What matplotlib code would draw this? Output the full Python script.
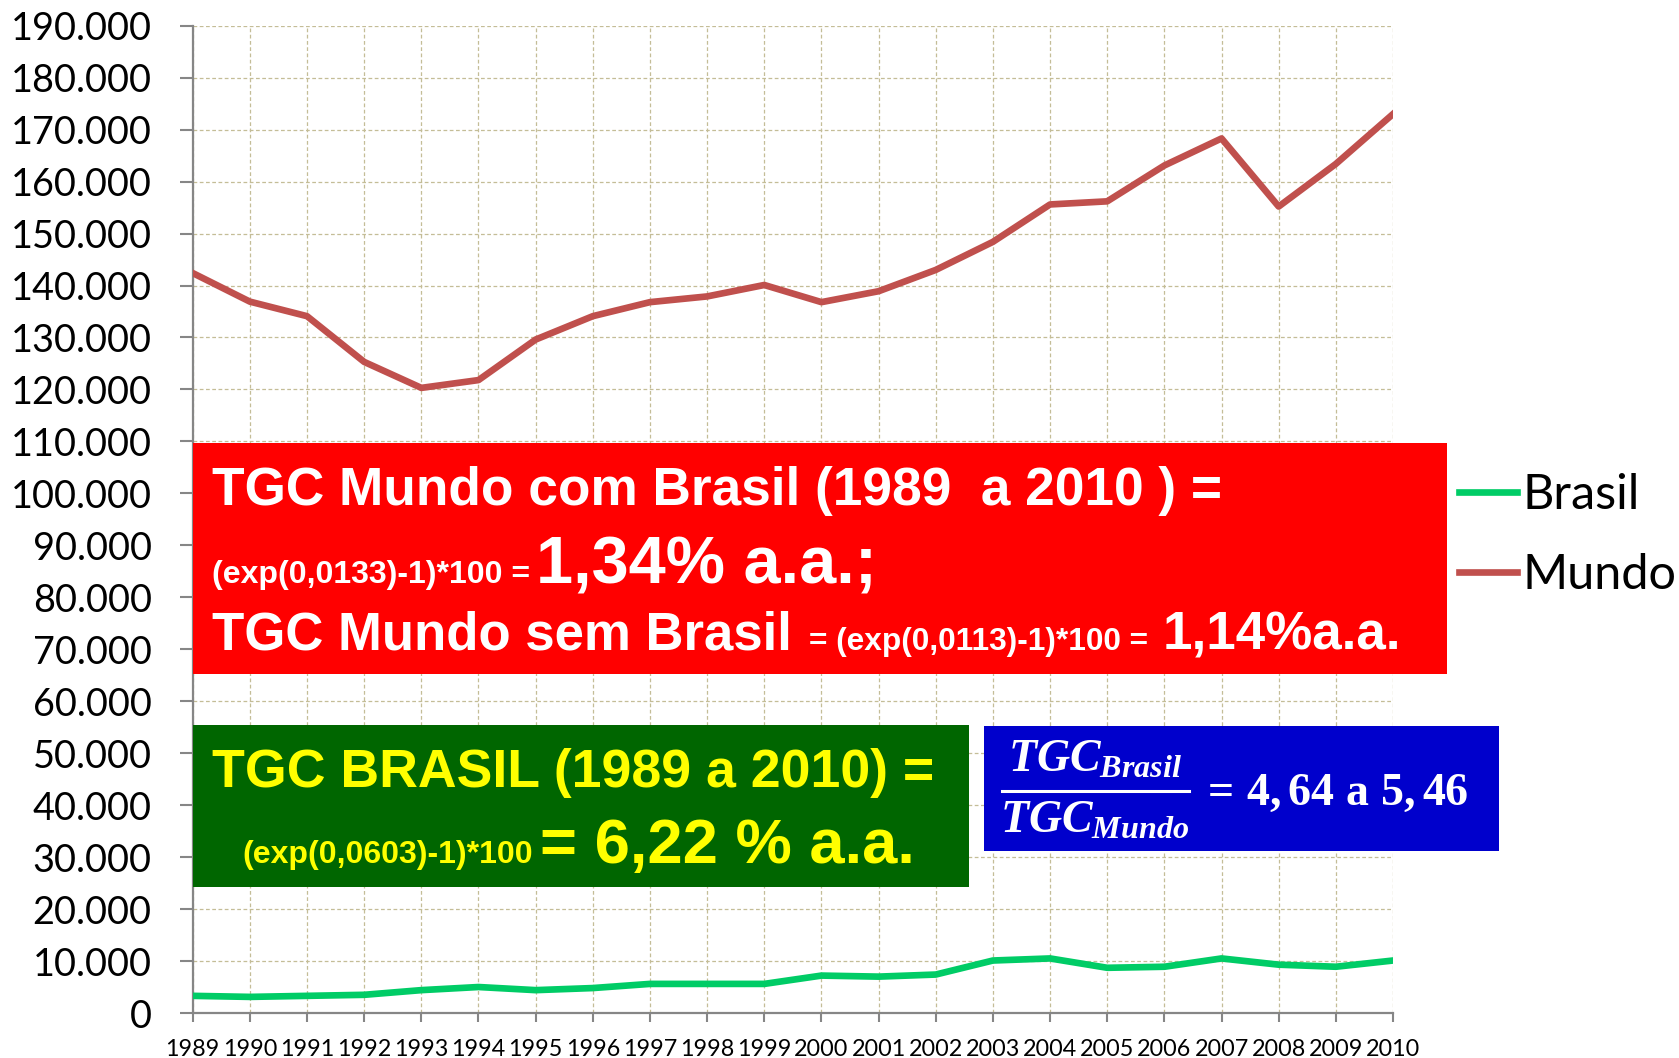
import matplotlib
matplotlib.use('Agg')
import matplotlib.pyplot as plt
from matplotlib.patches import Rectangle
from matplotlib.lines import Line2D

# ---------------- data ----------------
years = list(range(1989, 2011))
mundo = [142400, 136900, 134100, 125300, 120300, 121800, 129600, 134100, 136800, 137900,
         140100, 136800, 138900, 143000, 148400, 155600, 156200, 163100, 168300, 155200,
         163400, 173000]
brasil = [3300, 3100, 3300, 3500, 4400, 5000, 4400, 4800, 5600, 5600,
          5600, 7200, 7000, 7400, 10100, 10500, 8700, 8900, 10500, 9300,
          8900, 10100]
series_names = ['Brasil', 'Mundo']
yticks = list(range(0, 190001, 10000))
ytick_labels = ['0'] + ['{:,}'.format(v).replace(',', '.') for v in yticks[1:]]
xtick_labels = [str(y) for y in years]

red_lines = ['TGC Mundo com Brasil (1989  a 2010 ) =',
             '(exp(0,0133)-1)*100 =', '1,34% a.a.;',
             'TGC Mundo sem Brasil', '= (exp(0,0113)-1)*100 =', '1,14%a.a.']
green_lines = ['TGC BRASIL (1989 a 2010) =', '(exp(0,0603)-1)*100', '= 6,22 % a.a.']
blue_num = r'$TGC_{Brasil}$'
blue_den = r'$TGC_{Mundo}$'
blue_rhs = r'$=\,\mathbf{4,64\ a\ 5,46}$'

# ---------------- style ----------------
plt.rcParams['font.family'] = ['Lato', 'DejaVu Sans']
plt.rcParams['mathtext.fontset'] = 'custom'
plt.rcParams['mathtext.it'] = 'Liberation Serif:italic:bold'
plt.rcParams['mathtext.rm'] = 'Liberation Serif:bold'
plt.rcParams['mathtext.bf'] = 'Liberation Serif:bold'

W, H = 1679, 1058
fig = plt.figure(figsize=(W / 100, H / 100), dpi=100)
fig.patch.set_facecolor('white')

ax_l, ax_r, ax_t, ax_b = 192.7, 1393.0, 25.7, 1013.0
ax = fig.add_axes([ax_l / W, 1 - ax_b / H, (ax_r - ax_l) / W, (ax_b - ax_t) / H])

c_brasil = '#00CC66'
c_mundo = '#C0504D'
ax.plot(years, brasil, color=c_brasil, lw=4.8, label=series_names[0], zorder=3)
ax.plot(years, mundo, color=c_mundo, lw=4.8, label=series_names[1], zorder=3)

ax.set_xlim(years[0], years[-1])
ax.set_ylim(0, 190000)
ax.set_xticks(years)
ax.set_xticklabels(xtick_labels)
ax.set_yticks(yticks)
ax.set_yticklabels(ytick_labels)

ax.grid(True, color='#C4BD97', ls=(0, (3, 2)), lw=0.9)
ax.set_axisbelow(True)
for s in ['top', 'right']:
    ax.spines[s].set_visible(False)
for s in ['left', 'bottom']:
    ax.spines[s].set_color('#868686')
    ax.spines[s].set_linewidth(1.6)
ax.tick_params(axis='y', length=9.5, width=1.5, color='#868686', pad=20, labelsize=27.3)
ax.tick_params(axis='x', length=6.5, width=1.5, color='#868686', pad=12, labelsize=16.8)

fig.legend(loc='center left', bbox_to_anchor=(1459 / W, 1 - 535 / H),
           frameon=False, fontsize=35, handlelength=1.2, handletextpad=0.1,
           borderpad=0, borderaxespad=0, labelspacing=0.76)

# ---------------- boxes ----------------
def box(x0, y0, x1, y1, color):
    fig.add_artist(Rectangle((x0 / W, 1 - y1 / H), (x1 - x0) / W, (y1 - y0) / H,
                             transform=fig.transFigure, facecolor=color,
                             edgecolor='none', zorder=5))

box(193, 443, 1447, 674, '#FF0000')
box(193, 725, 969, 887, '#006600')
box(984, 726, 1499, 851, '#0000CC')

renderer = fig.canvas.get_renderer()

def put(x, base, s, size, color, family='Liberation Sans', ha='left'):
    return fig.text(x / W, 1 - base / H, s, fontsize=size, color=color,
                    family=family, fontweight='bold', ha=ha, va='baseline', zorder=6)

def after(t, target, gap=4):
    return max(target, t.get_window_extent(renderer).x1 + gap)

# red box
put(212, 505, red_lines[0], 38.3, 'white')
t = put(212, 583, red_lines[1], 23, 'white')
put(after(t, 536), 583, red_lines[2], 48, 'white')
t = put(212, 650, red_lines[3], 38, 'white')
t = put(after(t, 809), 650, red_lines[4], 22.8, 'white')
put(after(t, 1163), 650, red_lines[5], 38.2, 'white')

# green box
yel = '#FFFF00'
put(212, 787, green_lines[0], 38.6, yel)
t = put(242, 863, green_lines[1], 23, yel)
put(after(t, 540), 863, green_lines[2], 45.5, yel)

# blue box: fraction
put(1095, 772, blue_num, 33, 'white', ha='center')
put(1095, 833, blue_den, 33, 'white', ha='center')
fig.add_artist(Line2D([1002 / W, 1189 / W], [1 - 791 / H, 1 - 791 / H],
                      transform=fig.transFigure, color='white', lw=2.2, zorder=6))
put(1200, 805, blue_rhs, 33, 'white')

fig.savefig('out.png', dpi=100)
